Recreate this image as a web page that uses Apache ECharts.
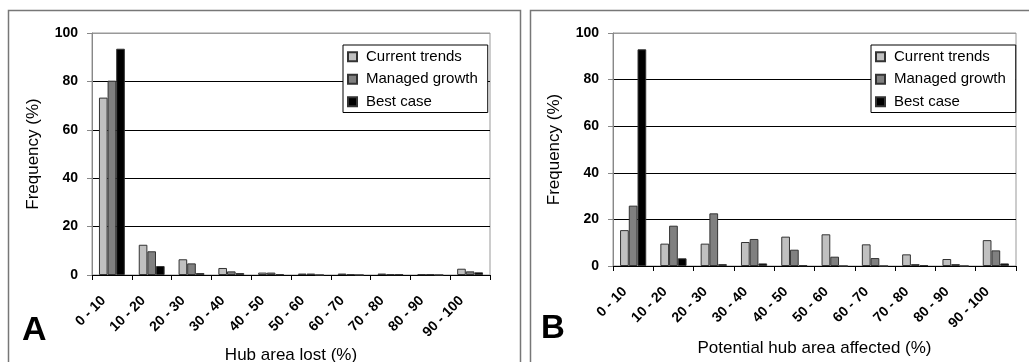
<!DOCTYPE html>
<html>
<head>
<meta charset="utf-8">
<script src="https://cdn.jsdelivr.net/npm/echarts@6/dist/echarts.min.js"></script>
<style>
html,body{margin:0;padding:0;background:#fff;}
#c{width:1029px;height:362px;}
</style>
</head>
<body>
<div id="c"></div>
<script>
const categories = ['0 - 10','10 - 20','20 - 30','30 - 40','40 - 50','50 - 60','60 - 70','70 - 80','80 - 90','90 - 100'];
const seriesNames = ['Current trends','Managed growth','Best case'];
const yTicks = [0, 20, 40, 60, 80, 100];

// Panel A: Hub area lost (%)
const aCurrent = [73.3, 12.5, 6.5, 2.9, 1.0, 0.6, 0.6, 0.6, 0.3, 2.6];
const aManaged = [80.3, 9.8, 4.8, 1.5, 1.0, 0.6, 0.3, 0.3, 0.3, 1.5];
const aBest    = [93.5, 3.7, 0.8, 0.8, 0.3, 0.0, 0.0, 0.3, 0.0, 1.1];

// Panel B: Potential hub area affected (%)
const bCurrent = [15.4, 9.6, 9.6, 10.3, 12.6, 13.6, 9.3, 5.0, 3.0, 11.1];
const bManaged = [25.9, 17.3, 22.6, 11.6, 7.0, 4.0, 3.4, 0.8, 0.8, 6.7];
const bBest    = [93.0, 3.3, 0.8, 1.1, 0.3, 0.0, 0.0, 0.4, 0.0, 1.1];

const colors = ['#c0c0c0', '#808080', '#000000'];
const FONT = 'Liberation Sans, Arial, sans-serif';

function xAxis(gridIndex, name, nameGap) {
  return {
    type: 'category', gridIndex, data: categories, name, nameLocation: 'middle', nameGap,
    nameTextStyle: {fontFamily: FONT, fontSize: 17, color: '#000'},
    axisLine: {lineStyle: {color: '#000', width: 1}},
    axisTick: {show: true, length: 5, lineStyle: {color: '#000'}},
    axisLabel: {rotate: 45, margin: 15, interval: 0, padding: [0, 12, 0, 0], fontFamily: FONT, fontSize: 14, fontWeight: 'bold', color: '#000'}
  };
}
function yAxis(gridIndex) {
  return {
    type: 'value', gridIndex, min: yTicks[0], max: yTicks[yTicks.length-1], interval: yTicks[1]-yTicks[0],
    name: 'Frequency (%)', nameLocation: 'middle', nameGap: 50, nameRotate: 90,
    nameTextStyle: {fontFamily: FONT, fontSize: 17, color: '#000'},
    axisLine: {show: true, lineStyle: {color: '#888', width: 1}},
    axisTick: {show: true, length: 5, lineStyle: {color: '#888'}},
    axisLabel: {margin: 14, fontFamily: FONT, fontSize: 14, fontWeight: 'bold', color: '#000'},
    splitLine: {show: true, lineStyle: {color: ['#000','#000','#000','#000','#000','#999'], width: 1}}
  };
}
function bars(idx, arrs) {
  return arrs.map((d, i) => ({
    type: 'bar', name: seriesNames[i], xAxisIndex: idx, yAxisIndex: idx, data: d,
    barGap: '0%', barCategoryGap: '35%',
    itemStyle: {color: colors[i], borderColor: '#333', borderWidth: 1},
    emphasis: {disabled: true}, animation: false
  }));
}
function legend(left, top) {
  return {
    data: seriesNames, orient: 'vertical', left, top, itemWidth: 9, itemHeight: 9, itemGap: 7,
    padding: [4, 10, 3, 4], borderColor: '#000', borderWidth: 1, backgroundColor: '#fff',
    icon: 'rect', selectedMode: false,
    textStyle: {fontFamily: FONT, fontSize: 15, lineHeight: 15.5, color: '#000', padding: [0, 0, 0, 4]}
  };
}

const chart = echarts.init(document.getElementById('c'));
chart.setOption({
  animation: false,
  backgroundColor: '#fff',
  grid: [
    {left: 92, right: 539, top: 33, bottom: 87, show: true, borderColor: '#999', borderWidth: 1, containLabel: false, outerBoundsMode: 'none'},
    {left: 613, right: 13, top: 33, bottom: 96, show: true, borderColor: '#999', borderWidth: 1, containLabel: false, outerBoundsMode: 'none'}
  ],
  xAxis: [xAxis(0, 'Hub area lost (%)', 60), xAxis(1, 'Potential hub area affected (%)', 74)],
  yAxis: [yAxis(0), yAxis(1)],
  legend: [legend(343, 45), legend(871, 45)],
  series: [...bars(0, [aCurrent, aManaged, aBest]), ...bars(1, [bCurrent, bManaged, bBest])],
  graphic: [
    {type: 'rect', shape: {x: 8.5, y: 10.5, width: 512, height: 400}, style: {fill: null, stroke: '#777', lineWidth: 1.5}, silent: true},
    {type: 'rect', shape: {x: 530.5, y: 10.5, width: 600, height: 400}, style: {fill: null, stroke: '#777', lineWidth: 1.5}, silent: true},
    {type: 'text', left: 22, top: 314, style: {text: 'A', font: 'bold 34px ' + FONT, fill: '#000'}, silent: true},
    {type: 'text', left: 541, top: 312, style: {text: 'B', font: 'bold 33px ' + FONT, fill: '#000'}, silent: true}
  ]
});
</script>
</body>
</html>
